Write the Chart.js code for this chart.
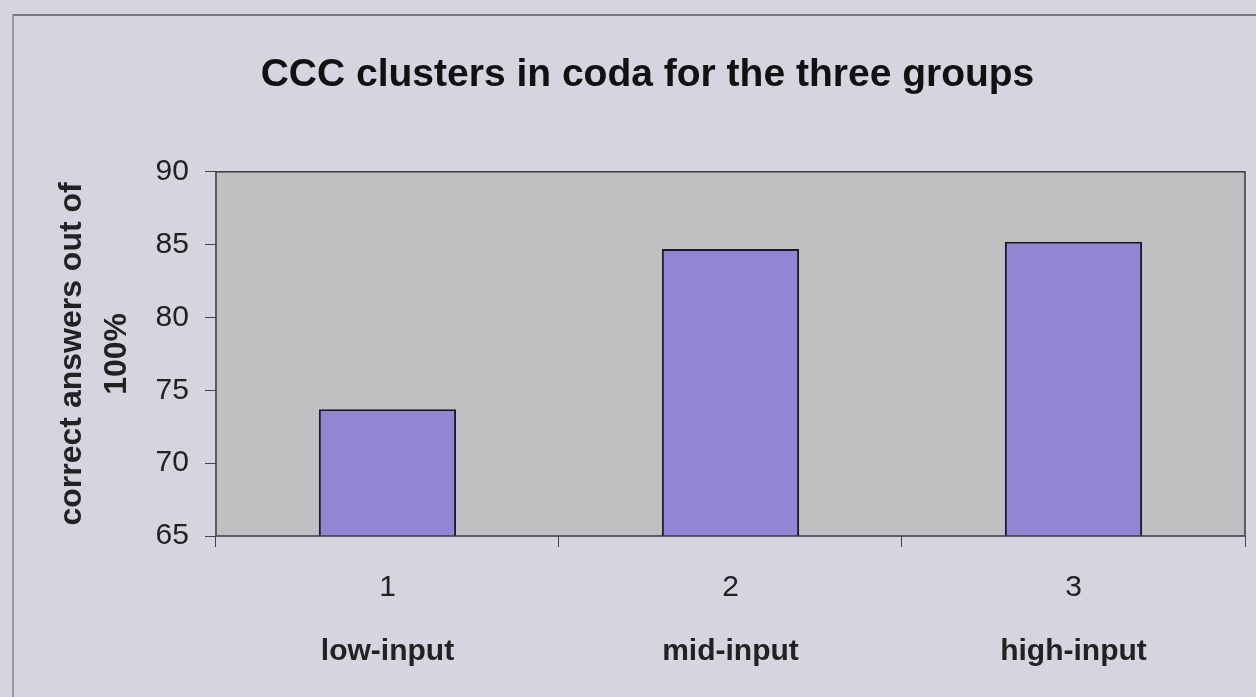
<!DOCTYPE html>
<html>
<head>
<meta charset="utf-8">
<script src="https://cdn.jsdelivr.net/npm/chart.js@4"></script>
<style>
    html, body { margin: 0; padding: 0; background: #d6d4df; }
    #wrap { position: relative; width: 1256px; height: 697px; }
    #frame { position: absolute; left: 12px; top: 14px; right: 0; bottom: 0;
             border-top: 2px solid #7a7980; border-left: 2px solid #9a99a0; }
    canvas { position: absolute; left: 0; top: 0; }
</style>
</head>
<body>
<div id="wrap">
    <div id="frame"></div>
    <canvas id="chart" width="1256" height="697"></canvas>
</div>
<script>
// chart data
const tickLabels = ['1', '2', '3'];
const groupNames = ['low-input', 'mid-input', 'high-input'];
const scores = [73.7, 84.7, 85.2];
const yTicks = [65, 70, 75, 80, 85, 90];

// grey plot area with a thin frame round it
const plotBox = {
    id: 'plotBox',
    beforeDatasetsDraw(chart) {
        const a = chart.chartArea;
        const ctx = chart.ctx;
        ctx.save();
        ctx.fillStyle = '#c0bfc2';
        ctx.fillRect(a.left, a.top, a.right - a.left, a.bottom - a.top);
        ctx.restore();
    },
    afterDatasetsDraw(chart) {
        const a = chart.chartArea;
        const ctx = chart.ctx;
        ctx.save();
        ctx.strokeStyle = '#3a3a40';
        ctx.lineWidth = 1.5;
        ctx.strokeRect(a.left, a.top, a.right - a.left, a.bottom - a.top);
        ctx.restore();
    }
};

const ctx = document.getElementById('chart').getContext('2d');
new Chart(ctx, {
    type: 'bar',
    data: {
        labels: tickLabels,
        datasets: [{
            data: scores,
            backgroundColor: '#9285d2',
            borderColor: '#1c1830',
            borderWidth: 2,
            borderSkipped: false,
            barPercentage: 0.4,
            categoryPercentage: 1.0
        }]
    },
    options: {
        responsive: false,
        animation: false,
        layout: { padding: { left: 50, right: 11, top: 52, bottom: 22 } },
        plugins: {
            legend: { display: false },
            tooltip: { enabled: false },
            title: {
                display: true,
                text: 'CCC clusters in coda for the three groups',
                color: '#111',
                font: { family: 'Liberation Sans', size: 39, weight: 'bold' },
                padding: { top: 0, bottom: 73 }
            }
        },
        scales: {
            x: {
                type: 'category',
                position: 'bottom',
                weight: 1,
                grid: { offset: true, drawOnChartArea: false, tickLength: 11, color: '#444', lineWidth: 1 },
                border: { display: false },
                ticks: {
                    color: '#222',
                    padding: 26,
                    font: { family: 'Liberation Sans', size: 30, lineHeight: 1 }
                }
            },
            x2: {
                type: 'category',
                position: 'bottom',
                weight: 2,
                labels: groupNames,
                offset: true,
                grid: { display: false, drawTicks: false },
                border: { display: false },
                ticks: {
                    color: '#222',
                    padding: 8,
                    font: { family: 'Liberation Sans', size: 30, weight: 'bold', lineHeight: 1 }
                }
            },
            y: {
                min: yTicks[0],
                max: yTicks[yTicks.length - 1],
                afterBuildTicks(axis) {
                    axis.ticks = yTicks.map(v => ({ value: v }));
                },
                grid: { drawOnChartArea: false, tickLength: 11, color: '#444', lineWidth: 1 },
                border: { display: false },
                ticks: {
                    color: '#222',
                    padding: 16,
                    font: { family: 'Liberation Sans', size: 30 }
                },
                title: {
                    display: true,
                    text: ['correct answers out of', '100%'],
                    color: '#222',
                    font: { family: 'Liberation Sans', size: 32, weight: 'bold', lineHeight: 1.4 },
                    padding: { top: 0, bottom: 0 }
                }
            }
        }
    },
    plugins: [plotBox]
});
</script>
</body>
</html>
